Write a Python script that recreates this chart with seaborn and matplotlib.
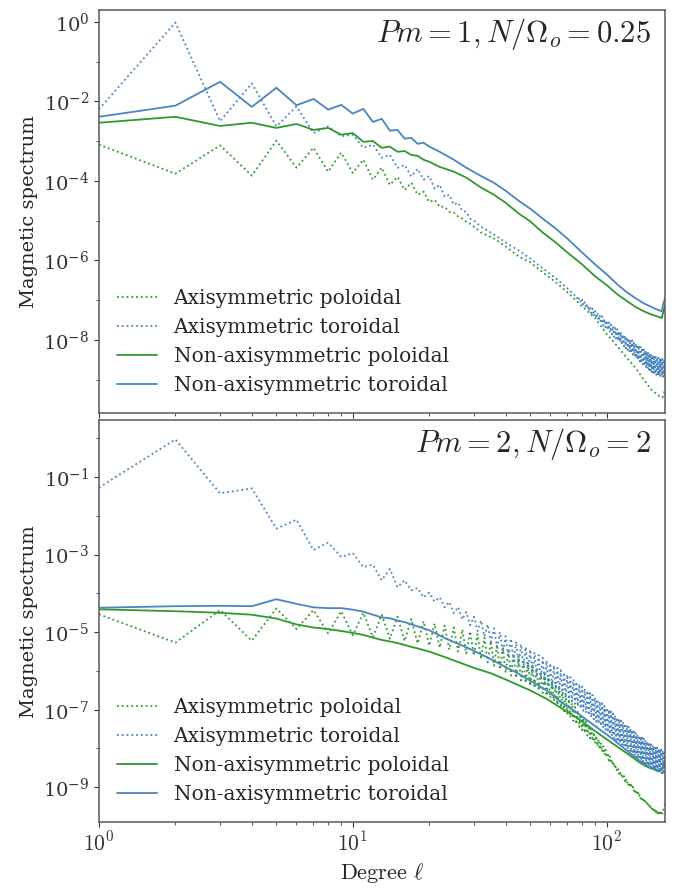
import numpy as np
import matplotlib
matplotlib.use("Agg")
import matplotlib.pyplot as plt
import seaborn as sns
from matplotlib.ticker import FixedLocator, NullFormatter, LogLocator

# ---------------- data (log10 of magnetic spectrum) ----------------
# Top panel: Pm = 1, N/Omega_o = 0.25
top_at_l = list(range(1, 31)) + [32, 36, 40, 45, 50, 56, 63, 70, 75] + list(range(76, 171))
top_at_v = [
    -2.2, -0.02, -2.5, -1.55, -2.63, -2.13, -2.8, -2.63, -2.88, -2.84,
    -3.17, -3.09, -3.42, -3.35, -3.67, -3.6, -3.89, -3.7, -3.97, -3.88,
    -4.2, -4.1, -4.4, -4.35, -4.6, -4.55, -4.75, -4.78, -4.95, -5.0,
    -5.15, -5.35, -5.55, -5.75, -5.95, -6.2, -6.45, -6.7, -6.88,
    -6.88, -7.01, -6.94, -7.07, -6.99, -7.14, -7.05, -7.2, -7.10, -7.27,
    -7.16, -7.33, -7.21, -7.40, -7.27, -7.46, -7.31, -7.52, -7.37, -7.58,
    -7.41, -7.64, -7.47, -7.69, -7.52, -7.75, -7.56, -7.81, -7.61, -7.86,
    -7.65, -7.92, -7.70, -7.96, -7.73, -8.02, -7.78, -8.06, -7.81, -8.12,
    -7.86, -8.16, -7.89, -8.21, -7.93, -8.25, -7.96, -8.30, -8.00, -8.33,
    -8.01, -8.37, -8.05, -8.41, -8.08, -8.46, -8.12, -8.50, -8.14, -8.54,
    -8.18, -8.58, -8.20, -8.62, -8.24, -8.65, -8.27, -8.68, -8.30, -8.72,
    -8.31, -8.75, -8.34, -8.77, -8.37, -8.81, -8.38, -8.83, -8.40, -8.86,
    -8.43, -8.88, -8.44, -8.89, -8.45, -8.90, -8.46, -8.91, -8.47, -8.92,
    -8.48, -8.93, -8.49, -8.94, -8.50,
]
top_ap_l = list(range(1, 31)) + [32, 36, 40, 45, 50, 56, 63, 70, 80, 90, 100, 110,
                                  120, 130, 140, 150, 160, 166, 170]
top_ap_v = [
    -3.09, -3.82, -3.11, -3.87, -2.99, -3.67, -3.17, -3.77, -3.29, -3.8,
    -3.47, -3.97, -3.67, -4.1, -3.9, -4.23, -4.05, -4.35, -4.27, -4.53,
    -4.48, -4.65, -4.65, -4.78, -4.8, -4.9, -4.95, -5.03, -5.08, -5.15,
    -5.3, -5.45, -5.65, -5.9, -6.05, -6.3, -6.55, -6.8, -7.15, -7.45, -7.85, -8.15,
    -8.45, -8.7, -9.0, -9.25, -9.4, -9.45, -9.25,
]
top_np_l = list(range(1, 21)) + [22, 25, 28, 32, 36, 40, 45, 50, 56, 63, 70, 80, 90,
                                  100, 110, 120, 130, 140, 150, 160, 165, 167, 170]
top_np_v = [
    -2.54, -2.39, -2.62, -2.54, -2.67, -2.57, -2.72, -2.67, -2.84, -2.8,
    -3.02, -3.0, -3.17, -3.14, -3.27, -3.25, -3.35, -3.37, -3.47, -3.52,
    -3.65, -3.77, -3.92, -4.17, -4.35, -4.55, -4.82, -5.02, -5.3, -5.55, -5.8, -6.1,
    -6.4, -6.62, -6.85, -7.02, -7.17, -7.28, -7.36, -7.42, -7.45, -7.3, -7.12,
]
top_nt_l = list(range(1, 21)) + [22, 25, 28, 32, 36, 40, 45, 50, 56, 63, 70, 80, 90,
                                  100, 110, 120, 130, 140, 150, 160, 165, 167, 170]
top_nt_v = [
    -2.39, -2.11, -1.51, -2.14, -1.66, -2.1, -1.94, -2.21, -2.09, -2.31,
    -2.19, -2.52, -2.44, -2.74, -2.72, -2.94, -2.92, -3.07, -3.04, -3.14,
    -3.27, -3.47, -3.67, -3.88, -4.05, -4.25, -4.5, -4.7, -4.95, -5.2, -5.45, -5.8,
    -6.1, -6.35, -6.6, -6.8, -6.95, -7.08, -7.17, -7.25, -7.28, -7.1, -6.95,
]

# Bottom panel: Pm = 2, N/Omega_o = 2
bot_at_l = list(range(1, 171))
bot_at_v = [
    -1.27, -0.03, -1.42, -1.29, -2.33, -2.1, -2.88, -2.69, -3.06, -2.96,
    -3.32, -3.26, -3.66, -3.37, -3.84, -3.66, -3.92, -3.86, -4.1, -3.98,
    -4.21, -4.10, -4.36, -4.22, -4.51, -4.35, -4.67, -4.48, -4.82, -4.60,
    -4.97, -4.70, -5.11, -4.80, -5.25, -4.90, -5.39, -5.00, -5.53, -5.10,
    -5.65, -5.17, -5.74, -5.24, -5.83, -5.31, -5.92, -5.38, -6.01, -5.45,
    -6.09, -5.52, -6.16, -5.59, -6.23, -5.66, -6.30, -5.73, -6.37, -5.80,
    -6.43, -5.86, -6.49, -5.92, -6.55, -5.98, -6.61, -6.04, -6.67, -6.10,
    -6.73, -6.16, -6.79, -6.22, -6.85, -6.28, -6.91, -6.34, -6.97, -6.40,
    -7.03, -6.46, -7.08, -6.51, -7.14, -6.57, -7.20, -6.62, -7.25, -6.68,
    -7.31, -6.73, -7.36, -6.79, -7.42, -6.84, -7.47, -6.90, -7.52, -6.95,
    -7.58, -7.00, -7.63, -7.05, -7.68, -7.10, -7.73, -7.15, -7.78, -7.20,
    -7.82, -7.24, -7.86, -7.28, -7.90, -7.32, -7.94, -7.36, -7.98, -7.40,
    -8.02, -7.44, -8.06, -7.48, -8.10, -7.52, -8.14, -7.56, -8.18, -7.60,
    -8.22, -7.63, -8.25, -7.66, -8.28, -7.69, -8.31, -7.72, -8.34, -7.75,
    -8.37, -7.78, -8.40, -7.81, -8.43, -7.84, -8.46, -7.87, -8.49, -7.90,
    -8.51, -7.92, -8.53, -7.94, -8.55, -7.96, -8.57, -7.98, -8.59, -8.00,
    -8.61, -8.02, -8.62, -8.03, -8.64, -8.05, -8.66, -8.06, -8.67, -8.08,
]
bot_ap_l = list(range(1, 171))
bot_ap_v = [
    -4.54, -5.27, -4.43, -5.22, -4.39, -4.92, -4.43, -5.03, -4.46, -5.08,
    -4.50, -5.13, -4.55, -5.17, -4.60, -5.23, -4.66, -5.29, -4.72, -5.35,
    -4.78, -5.40, -4.83, -5.45, -4.88, -5.50, -4.93, -5.55, -4.98, -5.60,
    -5.05, -5.69, -5.14, -5.78, -5.23, -5.87, -5.32, -5.96, -5.41, -6.05,
    -5.49, -6.12, -5.56, -6.18, -5.63, -6.25, -5.71, -6.31, -5.78, -6.38,
    -5.86, -6.44, -5.93, -6.51, -6.01, -6.57, -6.09, -6.64, -6.16, -6.70,
    -6.25, -6.78, -6.34, -6.87, -6.44, -6.95, -6.53, -7.04, -6.63, -7.12,
    -6.73, -7.20, -6.83, -7.29, -6.93, -7.37, -7.02, -7.45, -7.12, -7.53,
    -7.21, -7.60, -7.30, -7.67, -7.40, -7.74, -7.49, -7.80, -7.58, -7.87,
    -7.67, -7.95, -7.76, -8.02, -7.85, -8.09, -7.94, -8.16, -8.03, -8.23,
    -8.11, -8.31, -8.20, -8.38, -8.29, -8.45, -8.37, -8.53, -8.46, -8.60,
    -8.53, -8.66, -8.59, -8.72, -8.65, -8.78, -8.71, -8.84, -8.77, -8.90,
    -8.84, -8.94, -8.89, -8.99, -8.94, -9.04, -8.99, -9.09, -9.04, -9.14,
    -9.09, -9.19, -9.14, -9.24, -9.19, -9.29, -9.24, -9.34, -9.29, -9.39,
    -9.34, -9.42, -9.38, -9.46, -9.42, -9.50, -9.46, -9.54, -9.50, -9.58,
    -9.53, -9.60, -9.55, -9.62, -9.57, -9.64, -9.59, -9.66, -9.61, -9.68,
    -9.63, -9.69, -9.65, -9.70, -9.66, -9.68, -9.60, -9.55, -9.48, -9.42,
]
bot_np_l = list(range(1, 19)) + [20, 23, 26, 30, 35, 40, 45, 50, 58, 66, 78, 90, 105,
                                  120, 134, 145, 155, 162, 166, 170]
bot_np_v = [
    -4.41, -4.46, -4.5, -4.55, -4.65, -4.8, -4.88, -4.92, -4.97, -5.02,
    -5.07, -5.14, -5.2, -5.24, -5.28, -5.33, -5.38, -5.42,
    -5.5, -5.64, -5.77, -5.92, -6.06, -6.22, -6.37, -6.5, -6.72, -6.95, -7.25, -7.55,
    -7.86, -8.12, -8.35, -8.48, -8.55, -8.58, -8.5, -8.38,
]
bot_nt_l = list(range(1, 19)) + [20, 23, 26, 30, 35, 40, 45, 50, 58, 66, 78, 90, 105,
                                  120, 134, 145, 155, 162, 166, 170]
bot_nt_v = [
    -4.37, -4.33, -4.32, -4.33, -4.15, -4.27, -4.36, -4.38, -4.38, -4.42,
    -4.47, -4.55, -4.62, -4.64, -4.7, -4.74, -4.8, -4.85,
    -4.95, -5.15, -5.3, -5.48, -5.7, -5.9, -6.07, -6.25, -6.5, -6.8, -7.12, -7.42,
    -7.74, -8.05, -8.3, -8.45, -8.53, -8.56, -8.5, -8.35,
]

labels = ["Axisymmetric poloidal", "Axisymmetric toroidal",
          "Non-axisymmetric poloidal", "Non-axisymmetric toroidal"]
titles = [r"$Pm=1, N/\Omega_o=0.25$", r"$Pm=2, N/\Omega_o=2$"]

GREEN = "#2e9a2e"
BLUE = "#4a85c1"

# ---------------- style ----------------
sns.set_theme(style="ticks")
plt.rcParams["font.family"] = ["DejaVu Serif"]
plt.rcParams["mathtext.fontset"] = "cm"
plt.rcParams["axes.edgecolor"] = "0.35"
plt.rcParams["xtick.color"] = "0.2"
plt.rcParams["ytick.color"] = "0.2"

fig = plt.figure(figsize=(6.78, 8.88), dpi=100)
ax_top = fig.add_axes([0.146, 0.535, 0.835, 0.454])
ax_bot = fig.add_axes([0.146, 0.074, 0.835, 0.453], sharex=ax_top)

panels = [
    (ax_top, (top_ap_l, top_ap_v), (top_at_l, top_at_v), (top_np_l, top_np_v),
     (top_nt_l, top_nt_v), (1.46e-10, 2.0), np.arange(0, -10, -2), np.arange(-1, -10, -2)),
    (ax_bot, (bot_ap_l, bot_ap_v), (bot_at_l, bot_at_v), (bot_np_l, bot_np_v),
     (bot_nt_l, bot_nt_v), (1.25e-10, 2.96), np.arange(-1, -10, -2), np.arange(0, -10, -2)),
]

for i, (ax, ap, at, npol, ntor, ylim, majors, minors) in enumerate(panels):
    ax.set_xscale("log")
    ax.set_yscale("log")
    series = [(ap, GREEN, ":"), (at, BLUE, ":"), (npol, GREEN, "-"), (ntor, BLUE, "-")]
    for (lv, vv), col, ls in series:
        sns.lineplot(x=np.array(lv, dtype=float), y=10.0 ** np.array(vv), ax=ax,
                     color=col, linestyle=ls, linewidth=1.3, estimator=None,
                     sort=False, legend=False)
    ax.set_xlim(1, 170)
    ax.set_ylim(*ylim)
    ax.yaxis.set_major_locator(FixedLocator(10.0 ** majors))
    ax.yaxis.set_minor_locator(FixedLocator(10.0 ** minors))
    ax.yaxis.set_minor_formatter(NullFormatter())
    ax.tick_params(axis="y", which="major", labelsize=14, length=3.5, width=0.8)
    ax.tick_params(axis="y", which="minor", length=2, width=0.6)
    ax.tick_params(axis="x", which="major", labelsize=15.5, length=3.5, width=0.8)
    ax.tick_params(axis="x", which="minor", length=2, width=0.6)
    for sp in ax.spines.values():
        sp.set_linewidth(1.1)
    ax.set_ylabel("Magnetic spectrum", fontsize=14)
    ax.yaxis.set_label_coords(-0.108, 0.5)
    handles = [
        plt.Line2D([], [], color=GREEN, linestyle=":", linewidth=1.3),
        plt.Line2D([], [], color=BLUE, linestyle=":", linewidth=1.3),
        plt.Line2D([], [], color=GREEN, linestyle="-", linewidth=1.3),
        plt.Line2D([], [], color=BLUE, linestyle="-", linewidth=1.3),
    ]
    ax.legend(handles, labels, loc="lower left", frameon=False, fontsize=14.5,
              handlelength=2.0, handletextpad=0.8, labelspacing=0.5,
              borderaxespad=0.5)
    ax.text(0.975, 0.985, titles[i], transform=ax.transAxes, ha="right", va="top",
            fontsize=22)

ax_top.xaxis.set_major_locator(FixedLocator([1, 10, 100]))
ax_top.xaxis.set_minor_locator(LogLocator(base=10, subs=np.arange(2, 10)))
ax_top.xaxis.set_minor_formatter(NullFormatter())
ax_bot.set_xticks([1, 10, 100], labels=[r"$10^0$", r"$10^1$", r"$10^2$"])
plt.setp(ax_top.get_xticklabels(), visible=False)
ax_bot.set_xlabel(r"Degree $\ell$", fontsize=16, family="cmr10")

fig.savefig("out.png", dpi=100, facecolor="white")
